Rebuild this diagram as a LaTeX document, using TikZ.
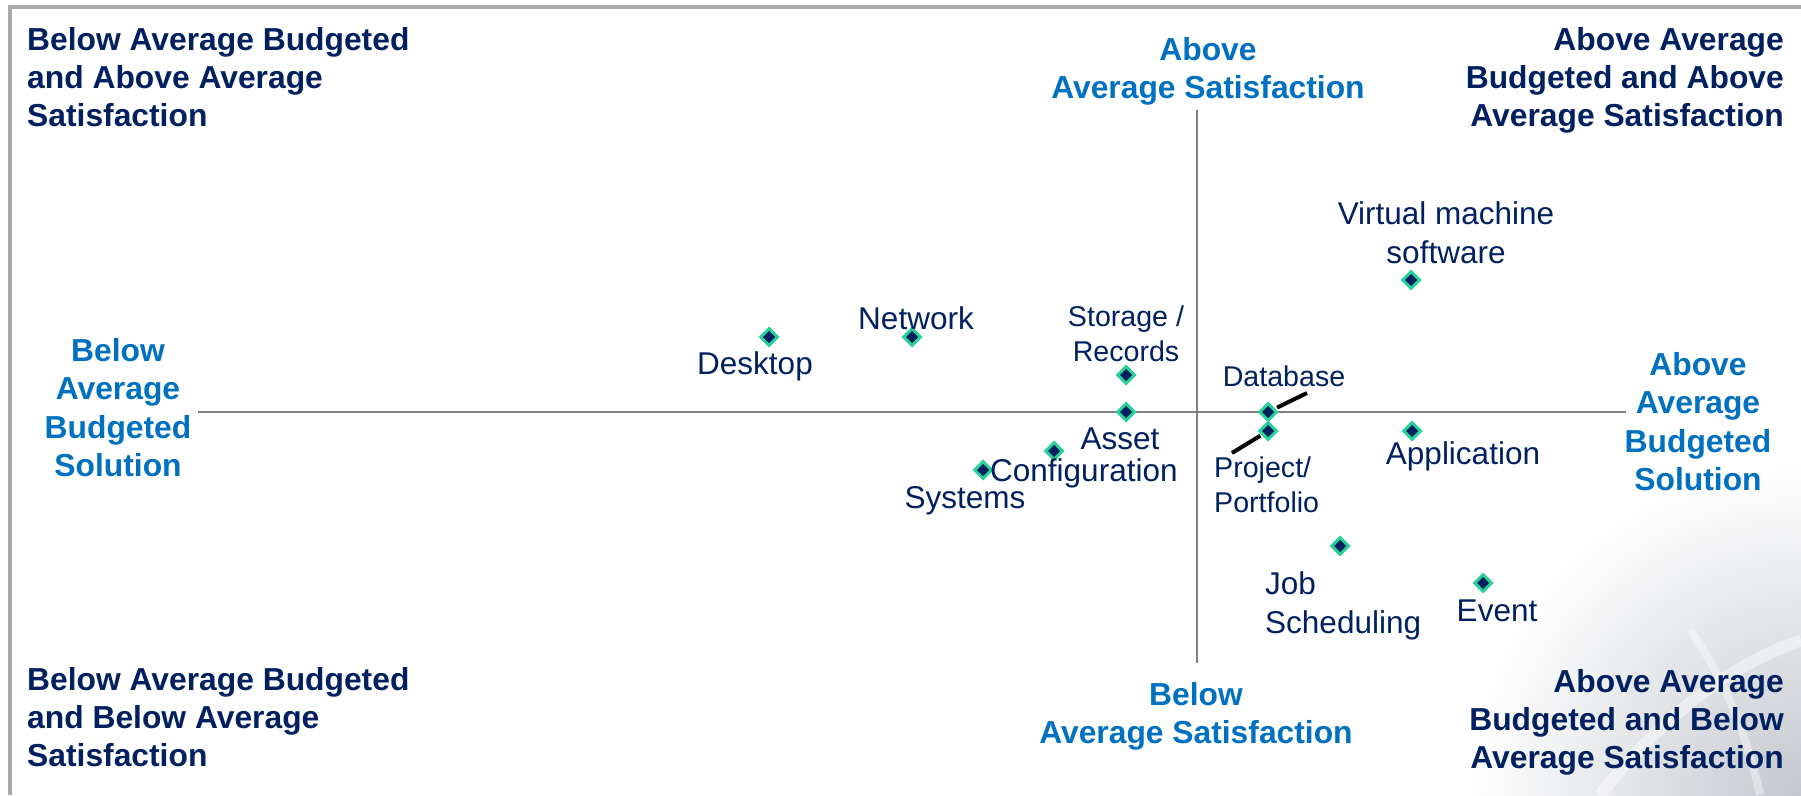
\documentclass[tikz,border=0pt]{standalone}
\usepackage{fontspec}
\setmainfont{Liberation Sans}
\usetikzlibrary{shapes.geometric}
\definecolor{navy}{RGB}{0,32,96}
\definecolor{axblue}{RGB}{0,112,192}
\definecolor{mint}{RGB}{40,210,150}
\definecolor{axgray}{RGB}{128,128,128}
\definecolor{framegray}{RGB}{170,170,170}
\definecolor{swirl}{RGB}{196,200,206}
\begin{document}
\begin{tikzpicture}[x=1pt,y=-1pt,
  heading/.style={font=\bfseries\fontsize{31.8}{38}\selectfont, text=navy, inner sep=0pt},
  axlabel/.style={font=\bfseries\fontsize{31.8}{38.5}\selectfont, text=axblue, inner sep=0pt, align=center},
  lbl/.style={font=\fontsize{31.5}{39}\selectfont, text=navy, inner sep=0pt},
  slbl/.style={font=\fontsize{28.6}{34.5}\selectfont, text=navy, inner sep=0pt},
  ptmark/.style={diamond, aspect=1, minimum size=18pt, inner sep=0pt, fill=navy, draw=mint, line width=3pt},
  axisline/.style={draw=axgray, line width=2.5pt},
  leader/.style={draw=black, line width=4pt},
  framestyle/.style={draw=framegray, line width=4pt}
]
\useasboundingbox (0,0) rectangle (1801,795);
\fill[white] (0,0) rectangle (1801,795);
% background swirl, bottom right
\begin{scope}
  \clip (1380,420) rectangle (1801,795);
  \shade[inner color=swirl, outer color=white] (1801,795) circle (330);
  \draw[white, line width=12pt, opacity=0.45] (1600,795) .. controls (1660,720) and (1720,670) .. (1801,640);
  \draw[white, line width=8pt, opacity=0.4] (1760,795) .. controls (1745,730) and (1725,680) .. (1690,630);
\end{scope}
% frame
\coordinate (f1) at (10,795);
\coordinate (f2) at (10,7);
\coordinate (f3) at (1801,7);
\draw[framestyle] (f1) -- (f2) -- (f3);
% axes
\coordinate (xl) at (198,412);
\coordinate (xr) at (1626,412);
\coordinate (yt) at (1197,110);
\coordinate (yb) at (1197,663);
\draw[axisline] (xl) -- (xr);
\draw[axisline] (yt) -- (yb);
% quadrant headings
\node[heading, anchor=north west, align=left] (tl) at (27,27) {Below Average Budgeted\\and Above Average\\Satisfaction};
\node[heading, anchor=north east, align=right] (tr) at (1784,27) {Above Average\\Budgeted and Above\\Average Satisfaction};
\node[heading, anchor=north west, align=left] (bl) at (27,667) {Below Average Budgeted\\and Below Average\\Satisfaction};
\node[heading, anchor=north east, align=right] (br) at (1784,669) {Above Average\\Budgeted and Below\\Average Satisfaction};
% axis labels
\node[axlabel, anchor=north] (atop) at (1208,37) {Above\\Average Satisfaction};
\node[axlabel, anchor=north] (abot) at (1196,682) {Below\\Average Satisfaction};
\node[axlabel, anchor=north] (aleft) at (118,338) {Below\\Average\\Budgeted\\Solution};
\node[axlabel, anchor=north] (aright) at (1698,352) {Above\\Average\\Budgeted\\Solution};
% data points
\node[ptmark] (desk) at (769,337) {};
\node[ptmark] (net) at (912,337) {};
\node[ptmark] (stor) at (1126,375) {};
\node[ptmark] (asset) at (1126,412) {};
\node[ptmark] (conf) at (1054,451) {};
\node[ptmark] (sys) at (983,470) {};
\node[ptmark] (db) at (1268,412) {};
\node[ptmark] (proj) at (1268,431) {};
\node[ptmark] (vm) at (1411,280) {};
\node[ptmark] (app) at (1412,431) {};
\node[ptmark] (job) at (1340,546) {};
\node[ptmark] (evt) at (1483,583) {};
% leaders
\coordinate (dbend) at (1307,393);
\coordinate (projend) at (1232,453);
\draw[leader, shorten <=10pt] (db.center) -- (dbend);
\draw[leader, shorten <=9pt] (proj.center) -- (projend);
% point labels
\node[lbl, anchor=base] (ldesk) at (755,374) {Desktop};
\node[lbl, anchor=base] (lnet) at (916,329) {Network};
\node[slbl, anchor=north, align=center] (lstor) at (1126,306) {Storage /\\Records};
\node[lbl, anchor=base] (lasset) at (1120,449) {Asset};
\node[lbl, anchor=base west] (lconf) at (990,481) {Configuration};
\node[lbl, anchor=base] (lsys) at (965,508) {Systems};
\node[slbl, anchor=base] (ldb) at (1284,386) {Database};
\node[slbl, anchor=north west, align=left] (lproj) at (1214,457) {Project/\\Portfolio};
\node[lbl, anchor=north, align=center] (lvm) at (1446,201) {Virtual machine\\software};
\node[lbl, anchor=base] (lapp) at (1463,464) {Application};
\node[lbl, anchor=north west, align=left] (ljob) at (1265,571) {Job\\Scheduling};
\node[lbl, anchor=base] (levt) at (1497,621) {Event};
\end{tikzpicture}
\end{document}
